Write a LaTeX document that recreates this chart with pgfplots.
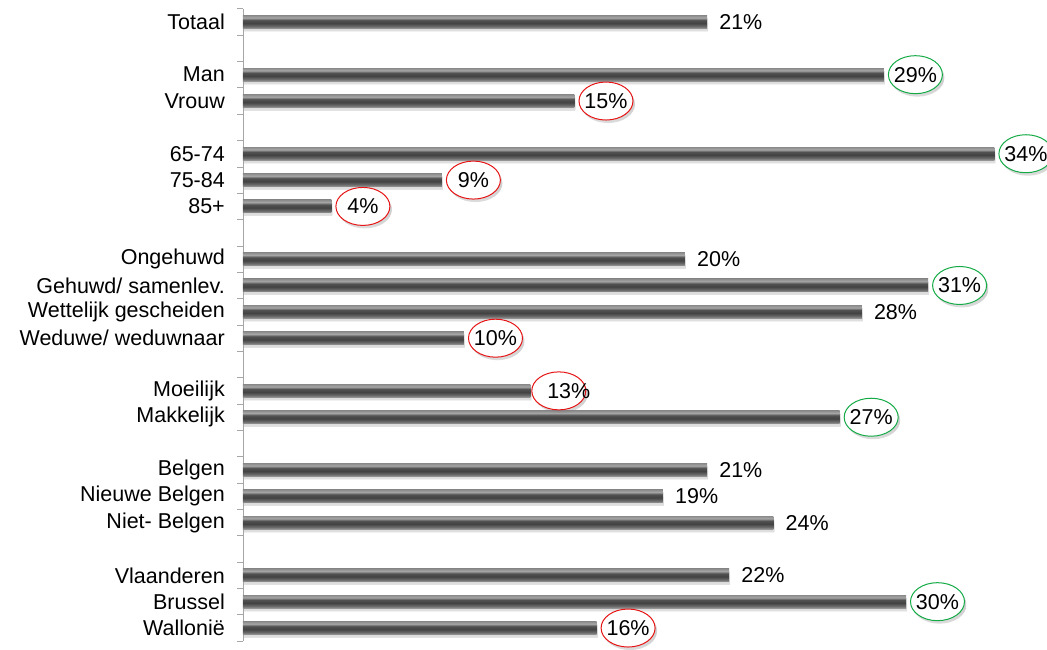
\documentclass[border=0pt]{standalone}
\usepackage{fontspec}
\setmainfont{Liberation Sans}
\usepackage{pgfplots}
\pgfplotsset{compat=1.18}
\usetikzlibrary{shadows,shapes.geometric}

\definecolor{okgreen}{RGB}{20,170,70}
\definecolor{badred}{RGB}{230,20,20}
\newcommand\lbl{\fontsize{21.5}{24}\selectfont}

% bar gradient, bottom to top; the bar itself spans 25bp..75bp
\pgfdeclareverticalshading{barshade}{100bp}{%
  color(0bp)=(black!40); color(25bp)=(black!40);
  color(33bp)=(black!58); color(45bp)=(black!74);
  color(57bp)=(black!68); color(66bp)=(black!35);
  color(75bp)=(black!45); color(100bp)=(black!45)}

\begin{document}
\begin{tikzpicture}
\pgfplotsset{
  barstyle/.style={
    xbar, bar width=13pt, bar shift=0pt, draw=none, shading=barshade,
    drop shadow={shadow xshift=1pt, shadow yshift=-3pt, opacity=0.13},
  },
  plain/.style={
    barstyle,
    nodes near coords={\pgfmathprintnumber{\pgfplotspointmeta}\%},
    every node near coord/.style={anchor=west, inner sep=0pt, xshift=12pt, font=\lbl},
  },
  circled/.style={
    barstyle,
    every node near coord/.style={
      ellipse, draw=#1, line width=1pt, fill=white,
      minimum width=54pt, minimum height=38pt, inner sep=0pt,
      anchor=west, xshift=4pt, font=\lbl,
      drop shadow={shadow xshift=2pt, shadow yshift=-3pt, opacity=0.16, fill=gray},
    },
    nodes near coords={\makebox[0pt]{\pgfmathprintnumber{\pgfplotspointmeta}\%}},
  },
}
\begin{axis}[
  name=ax,
  scale only axis,
  width=795.6pt, height=632.4pt,
  xmin=0, xmax=36,
  ymin=-0.5, ymax=23.5,
  y dir=reverse,
  axis x line=none,
  axis y line*=left,
  y axis line style={gray!70, line width=0.8pt},
  ytick={0,2,3,5,6,7,9,10,11,12,14,15,17,18,19,21,22,23},
  yticklabels={Totaal, Man, Vrouw, 65-74, 75-84, 85+,
    Ongehuwd, Gehuwd/ samenlev., Wettelijk gescheiden, Weduwe/ weduwnaar,
    Moeilijk, Makkelijk, Belgen, Nieuwe Belgen, Niet- Belgen,
    Vlaanderen, Brussel, Wallonië},
  minor ytick={-0.5,0.5,...,23.5},
  major tick length=0pt,
  minor tick length=6pt,
  tick align=outside,
  every tick/.style={gray!70, line width=0.8pt},
  yticklabel style={font=\lbl, inner sep=0pt, xshift=-18pt},
  point meta=x,
  /pgf/number format/assume math mode=true,
  clip=false,
]
% one plot per bar, so that every bar gets its own gradient
\addplot[plain] coordinates {(21,0)};            % Totaal
\addplot[circled=okgreen] coordinates {(29,2)};  % Man
\addplot[circled=badred] coordinates {(15,3)};   % Vrouw
\addplot[circled=okgreen] coordinates {(34,5)};  % 65-74
\addplot[circled=badred] coordinates {(9,6)};    % 75-84
\addplot[circled=badred] coordinates {(4,7)};    % 85+
\addplot[plain] coordinates {(20,9)};            % Ongehuwd
\addplot[circled=okgreen] coordinates {(31,10)}; % Gehuwd
\addplot[plain] coordinates {(28,11)};           % Wettelijk gescheiden
\addplot[circled=badred] coordinates {(10,12)};  % Weduwe
% Moeilijk: label sits off-centre in its ellipse
\addplot[circled=badred,
  nodes near coords={\makebox[0pt]{\hspace{20pt}\pgfmathprintnumber{\pgfplotspointmeta}\%}},
  every node near coord/.append style={xshift=-3pt}] coordinates {(13,14)};
\addplot[circled=okgreen] coordinates {(27,15)}; % Makkelijk
\addplot[plain] coordinates {(21,17)};           % Belgen
\addplot[plain] coordinates {(19,18)};           % Nieuwe Belgen
\addplot[plain] coordinates {(24,19)};           % Niet-Belgen
\addplot[plain] coordinates {(22,21)};           % Vlaanderen
\addplot[circled=okgreen] coordinates {(30,22)}; % Brussel
\addplot[circled=badred] coordinates {(16,23)};  % Wallonie
\end{axis}
\pgfresetboundingbox
\path ([xshift=-243pt, yshift=8.8pt]ax.north west) rectangle ([xshift=804pt, yshift=-8.8pt]ax.south west);
\end{tikzpicture}
\end{document}
